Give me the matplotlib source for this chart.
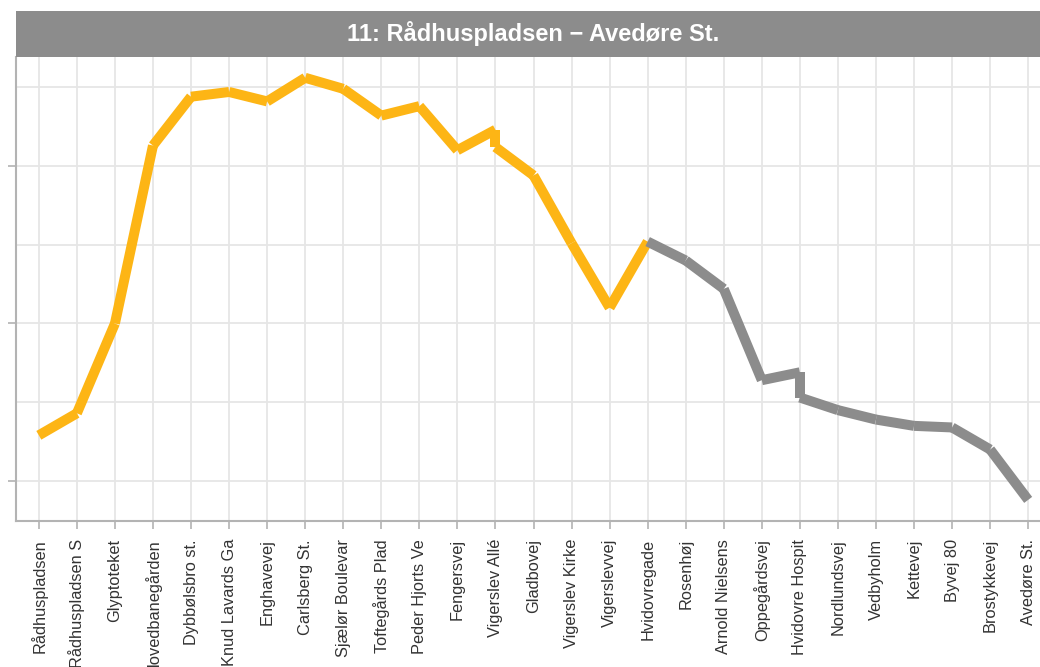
import matplotlib.pyplot as plt
import numpy as np

plt.rcParams["font.family"] = ["Liberation Sans", "DejaVu Sans"]

TITLE = "11: Rådhuspladsen \u2212 Avedøre St."

STATIONS = [
    "Rådhuspladsen", "Rådhuspladsen S", "Glyptoteket", "Hovedbanegården",
    "Dybbølsbro st.", "Knud Lavards Ga", "Enghavevej", "Carlsberg St.",
    "Sjælør Boulevar", "Toftegårds Plad", "Peder Hjorts Ve", "Fengersvej",
    "Vigerslev Allé", "Gladbovej", "Vigerslev Kirke", "Vigerslevvej",
    "Hvidovregade", "Rosenhøj", "Arnold Nielsens", "Oppegårdsvej",
    "Hvidovre Hospit", "Nordlundsvej", "Vedbyholm", "Kettevej",
    "Byvej 80", "Brostykkevej", "Avedøre St.",
]

# arrival / departure values
ARRIVE = [12.9, 14.3, 20.0, 31.3, 34.4, 34.7, 34.1, 35.6, 34.9, 33.2,
          33.8, 31.0, 32.3, 29.4, 25.1, 21.0, 25.2, 24.0, 22.2, 16.4,
          16.9, 14.5, 13.9, 13.5, 13.4, 12.0, 8.8]
DEPART = [12.9, 14.3, 20.0, 31.3, 34.4, 34.7, 34.1, 35.6, 34.9, 33.2,
          33.8, 31.0, 31.2, 29.4, 25.1, 21.0, 25.2, 24.0, 22.2, 16.4,
          15.3, 14.5, 13.9, 13.5, 13.4, 12.0, 8.8]
SPLIT = 16  # Hvidovregade: colour changes here

YELLOW = "#FDB515"
GREY = "#8c8c8c"
GRID = "#e6e6e6"
AXIS = "#b3b3b3"

fig = plt.figure(figsize=(10.4, 6.67), dpi=100)
W, H = 1040, 667
left, right, top, bottom = 16, 1051, 57, 521
ax = fig.add_axes([left / W, 1 - bottom / H, (right - left) / W, (bottom - top) / H])

x = np.arange(len(STATIONS))
lw = 7.2
for i in range(len(STATIONS)):
    col = YELLOW if i < SPLIT else GREY
    if ARRIVE[i] != DEPART[i]:
        ax.plot([x[i], x[i]], [ARRIVE[i], DEPART[i]], color=col, lw=lw,
                solid_capstyle="butt", zorder=3)
    if i + 1 < len(STATIONS):
        ax.plot([x[i], x[i + 1]], [DEPART[i], ARRIVE[i + 1]], color=col, lw=lw,
                solid_capstyle="butt", zorder=3)

ax.set_xlim(-0.6, len(STATIONS) - 1 + 0.6)
ax.set_ylim(7.46, 36.92)
ax.set_xticks(x)
ax.set_xticklabels(STATIONS, rotation=90, fontsize=11.8, color="#333333")
ax.set_yticks([10, 20, 30])
ax.set_yticklabels([])
ax.set_yticks([15, 25, 35], minor=True)
ax.tick_params(axis="both", which="major", color=AXIS, length=6, width=1.2)
ax.tick_params(axis="y", which="minor", length=0)
ax.tick_params(axis="x", pad=7)
ax.grid(True, which="both", color=GRID, lw=1.3)
ax.set_axisbelow(True)
for s in ["top", "right"]:
    ax.spines[s].set_visible(False)
for s in ["left", "bottom"]:
    ax.spines[s].set_color(AXIS)
    ax.spines[s].set_linewidth(1.5)

strip = fig.add_axes([left / W, 1 - top / H, (right - left) / W, (top - 11) / H])
strip.set_facecolor(GREY)
strip.set_xticks([])
strip.set_yticks([])
for s in strip.spines.values():
    s.set_visible(False)
strip.text(0.5, 0.5, TITLE, transform=strip.transAxes, ha="center", va="center",
           color="white", fontsize=17, fontweight="bold")

fig.savefig("out.png", dpi=100)
